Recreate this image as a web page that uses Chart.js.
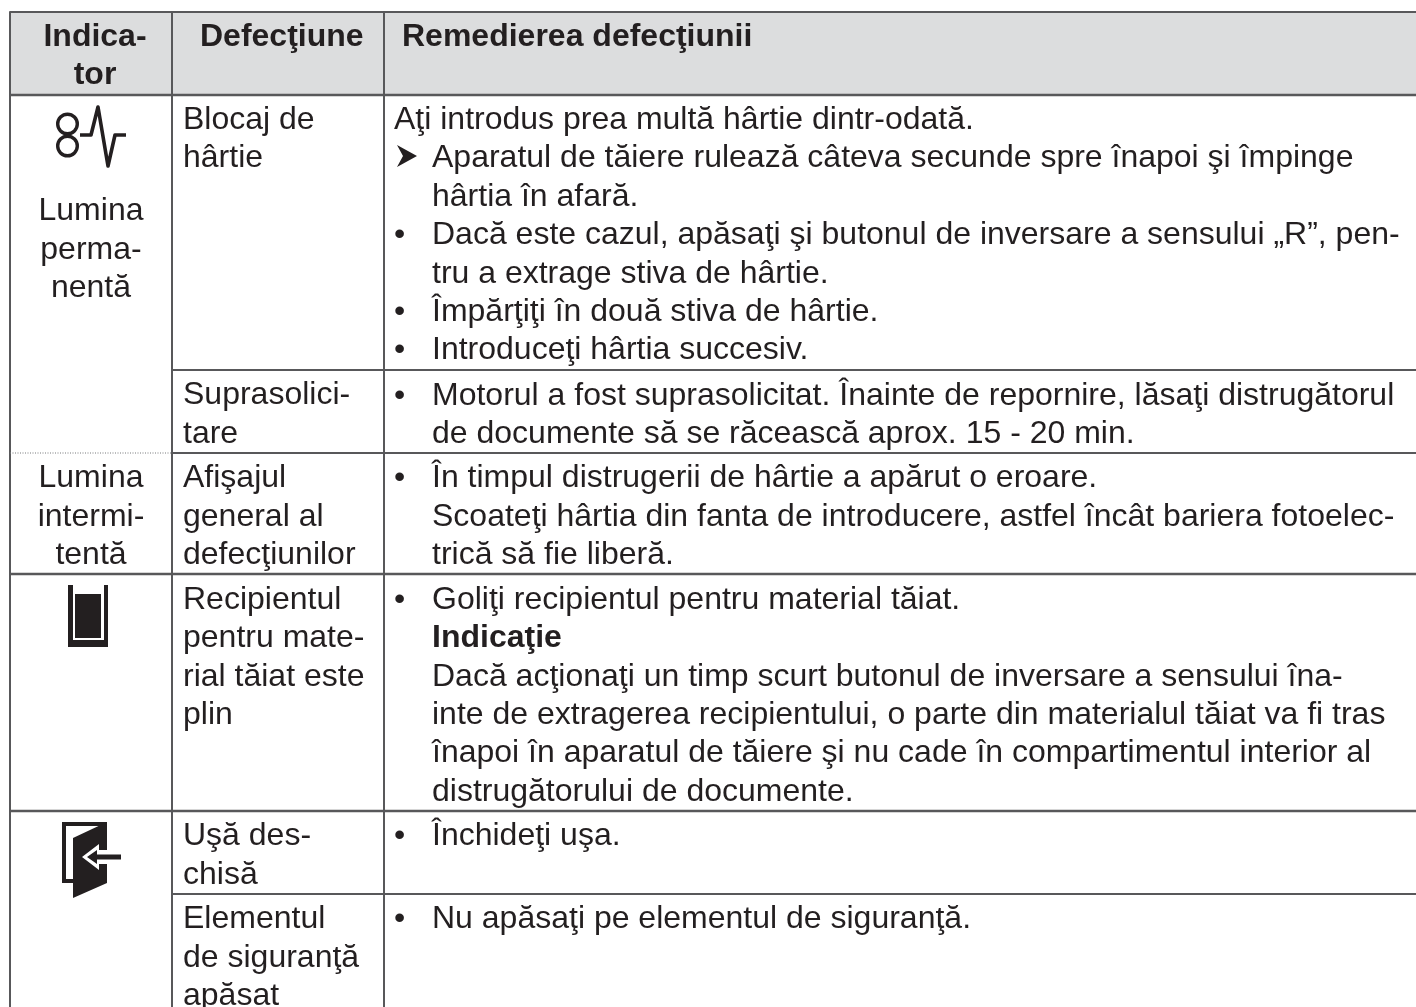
<!doctype html>
<html lang="ro">
<head>
    <meta charset="utf-8">
    <title>Indicator defecțiuni</title>
    <script src="https://cdn.jsdelivr.net/npm/chart.js@4/dist/chart.umd.js"></script>
    <style>
        html, body { margin: 0; padding: 0; background: #fff; }
        #wrap { width: 1416px; height: 1007px; }
        canvas { display: block; }
    </style>
</head>
<body>
<div id="wrap"><canvas id="myChart" width="1416" height="1007"></canvas></div>
<script>
    // table text
    var headerIndicator = ["Indica-", "tor"];
    var headerFault = ["Defecţiune"];
    var headerFix = ["Remedierea defecţiunii"];

    var indicatorText = ["Lumina", "perma-", "nentă", "Lumina", "intermi-", "tentă"];
    var faultText = ["Blocaj de", "hârtie", "Suprasolici-", "tare", "Afişajul", "general al", "defecţiunilor",
        "Recipientul", "pentru mate-", "rial tăiat este", "plin", "Uşă des-", "chisă", "Elementul", "de siguranţă", "apăsat"];
    var introText = ["Aţi introdus prea multă hârtie dintr-odată."];
    var fixText = [
        "Aparatul de tăiere rulează câteva secunde spre înapoi şi împinge",
        "hârtia în afară.",
        "Dacă este cazul, apăsaţi şi butonul de inversare a sensului „R”, pen-",
        "tru a extrage stiva de hârtie.",
        "Împărţiţi în două stiva de hârtie.",
        "Introduceţi hârtia succesiv.",
        "Motorul a fost suprasolicitat. Înainte de repornire, lăsaţi distrugătorul",
        "de documente să se răcească aprox. 15 - 20 min.",
        "În timpul distrugerii de hârtie a apărut o eroare.",
        "Scoateţi hârtia din fanta de introducere, astfel încât bariera fotoelec-",
        "trică să fie liberă.",
        "Goliţi recipientul pentru material tăiat.",
        "Indicaţie",
        "Dacă acţionaţi un timp scurt butonul de inversare a sensului îna-",
        "inte de extragerea recipientului, o parte din materialul tăiat va fi tras",
        "înapoi în aparatul de tăiere şi nu cade în compartimentul interior al",
        "distrugătorului de documente.",
        "Închideţi uşa.",
        "Nu apăsaţi pe elementul de siguranţă."
    ];
    var boldFixLine = "Indicaţie";

    // baselines, same order as the text arrays
    var indicatorY = [220, 259, 297, 487, 526, 564];
    var faultY = [129, 167, 404, 443, 487, 526, 564, 609, 647, 686, 724, 845, 884, 928, 967, 1005];
    var introY = [129];
    var fixY = [167, 206, 244, 283, 321, 359, 405, 443, 487, 526, 564, 609, 647, 686, 724, 762, 801, 845, 928];
    var bulletY = [244, 321, 359, 405, 487, 609, 845, 928];

    // table rules
    var colX = [172, 384];
    var frameLeft = 10, frameTop = 12, frameRight = 1416, frameBottom = 1007;
    var fullRows = [95, 574, 811];
    var partRows = [370, 453, 894];
    var dottedRow = [453];

    function seg(x1, y1, x2, y2) { return [{x: x1, y: y1}, {x: x2, y: y2}]; }
    function pts(list) { return list.map(function (p) { return {x: p[0], y: p[1]}; }); }

    var ruleColor = "#58585a";
    var ink = "#231f20";
    var datasets = [];

    function addLine(data, color, width, dash) {
        datasets.push({type: "line", data: data, borderColor: color, borderWidth: width, borderDash: dash || [],
            borderJoinStyle: "round", pointRadius: 0, fill: false, tension: 0});
    }
    function addShape(list, color) {
        datasets.push({type: "line", data: pts(list.concat([list[0]])), borderColor: color, borderWidth: 0,
            backgroundColor: color, pointRadius: 0, fill: "shape", tension: 0});
    }

    // header band
    addShape([[frameLeft, frameTop], [frameRight, frameTop], [frameRight, fullRows[0]], [frameLeft, fullRows[0]]], "#dcddde");

    addLine(seg(frameLeft, frameTop, frameRight, frameTop), ruleColor, 2);
    addLine(seg(frameLeft, frameTop, frameLeft, frameBottom), ruleColor, 2);
    colX.forEach(function (x) { addLine(seg(x, frameTop, x, frameBottom), ruleColor, 2); });
    fullRows.forEach(function (y) { addLine(seg(frameLeft, y, frameRight, y), ruleColor, 2.4); });
    partRows.forEach(function (y) { addLine(seg(colX[0], y, frameRight, y), ruleColor, 2); });
    dottedRow.forEach(function (y) { addLine(seg(frameLeft, y, colX[0], y), "#77787b", 1, [1, 1.5]); });

    // paper jam icon
    datasets.push({type: "scatter", data: pts([[67.5, 124], [67.5, 146]]), pointStyle: "circle", pointRadius: 9.8,
        pointBorderWidth: 3.4, pointBackgroundColor: "rgba(0,0,0,0)", pointBorderColor: ink, showLine: false});
    addLine(pts([[80, 135], [91, 135], [98, 107], [108, 166], [115, 135], [126, 135]]), ink, 3.6);

    // bin icon
    addShape([[68, 585], [73, 585], [73, 640], [104, 640], [104, 585], [108, 585], [108, 647], [68, 647]], ink);
    addShape([[75, 594], [101, 594], [101, 638], [75, 638]], ink);

    // door icon
    addShape([[62, 822], [107, 822], [107, 826], [66, 826], [66, 879], [73, 879], [73, 883], [62, 883]], ink);
    addShape([[73, 838], [107, 822], [107, 883], [73, 898]], ink);
    addShape([[82, 857], [99, 844], [99, 850], [107, 850], [107, 864], [99, 864], [99, 870]], "#ffffff");
    addShape([[87, 857], [97, 850], [97, 854.5], [121, 854.5], [121, 859.5], [97, 859.5], [97, 864]], ink);

    // arrow in front of the first list line
    addShape([[397, 145], [417, 156], [397, 167], [403, 156]], ink);

    // first dataset would otherwise end up on top
    datasets.forEach(function (d, i) { d.order = -i; });

    var textPlugin = {
        id: "tableText",
        afterDatasetsDraw: function (chart) {
            var ctx = chart.ctx, sx = chart.scales.x, sy = chart.scales.y;
            var put = function (text, x, y, font, align) {
                ctx.font = font;
                ctx.textAlign = align || "left";
                ctx.fillText(text, sx.getPixelForValue(x), sy.getPixelForValue(y));
            };
            var body = "32px 'Liberation Sans'", bold = "bold 32px 'Liberation Sans'";
            ctx.save();
            ctx.fillStyle = ink;
            ctx.textBaseline = "alphabetic";

            headerIndicator.forEach(function (t, i) { put(t, 95, 46 + i * 38, bold, "center"); });
            put(headerFault[0], 200, 46, bold);
            put(headerFix[0], 402, 46, bold);

            indicatorText.forEach(function (t, i) { put(t, 91, indicatorY[i], body, "center"); });
            faultText.forEach(function (t, i) { put(t, 183, faultY[i], body); });
            introText.forEach(function (t, i) { put(t, 394, introY[i], body); });
            fixText.forEach(function (t, i) { put(t, 432, fixY[i], t === boldFixLine ? bold : body); });
            bulletY.forEach(function (y) { put("•", 394, y, body); });
            ctx.restore();
        }
    };

    var myChart = new Chart(document.getElementById("myChart").getContext("2d"), {
        data: {datasets: datasets},
        plugins: [textPlugin],
        options: {
            responsive: false,
            animation: false,
            layout: {padding: 0, autoPadding: false},
            plugins: {legend: {display: false}, title: {display: false}, tooltip: {enabled: false}},
            scales: {
                x: {type: "linear", display: false, min: 0, max: 1416},
                y: {type: "linear", display: false, min: 0, max: 1007, reverse: true}
            }
        }
    });
</script>
</body>
</html>
